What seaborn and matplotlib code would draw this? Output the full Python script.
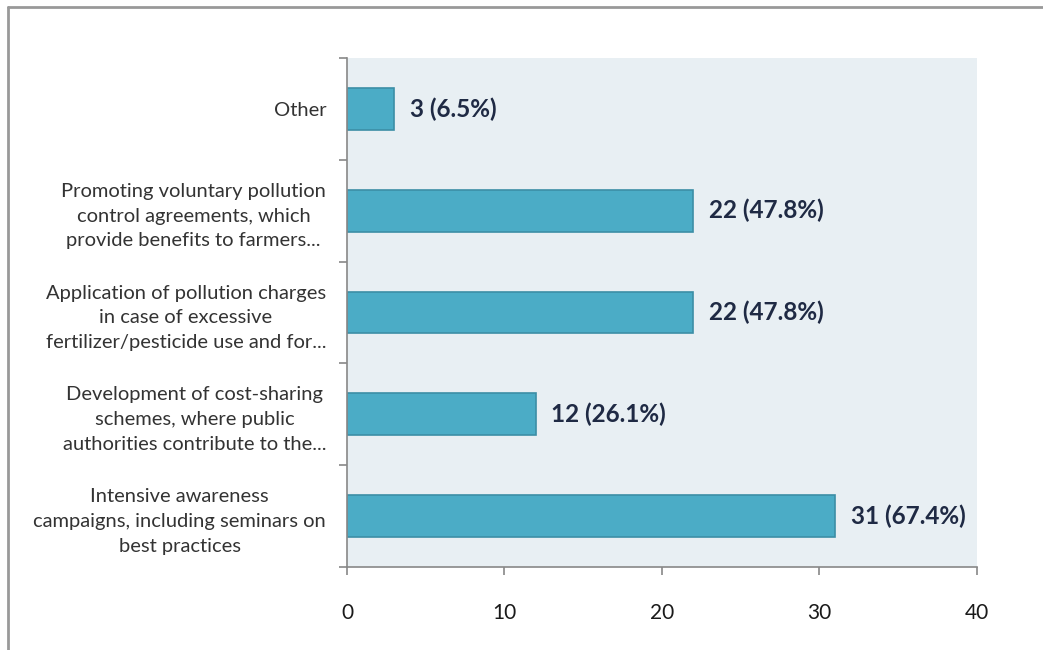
import matplotlib
matplotlib.use("Agg")
import matplotlib.pyplot as plt
import seaborn as sns
import pandas as pd
from matplotlib.lines import Line2D

categories = [
    "Other",
    "Promoting voluntary pollution\ncontrol agreements, which\nprovide benefits to farmers...",
    "Application of pollution charges\nin case of excessive\nfertilizer/pesticide use and for...",
    "Development of cost-sharing\nschemes, where public\nauthorities contribute to the...",
    "Intensive awareness\ncampaigns, including seminars on\nbest practices",
]
counts = [3, 22, 22, 12, 31]
percents = [6.5, 47.8, 47.8, 26.1, 67.4]
x_ticks = [0, 10, 20, 30, 40]

sns.set_style("white")
plt.rcParams["font.family"] = ["Lato", "DejaVu Sans"]

df = pd.DataFrame({"category": categories, "count": counts})

fig = plt.figure(figsize=(10.43, 6.5), dpi=100)
ax = fig.add_axes([0.3327, 0.1277, 0.9367 - 0.3327, 0.9108 - 0.1277])
ax.set_facecolor("#E8EFF3")

sns.barplot(data=df, y="category", x="count", orient="h", color="#4BACC6",
            edgecolor="#3C8EA6", linewidth=1.2, width=0.41, saturation=1, ax=ax)

for i, (c, p) in enumerate(zip(counts, percents)):
    ax.annotate(f"{c} ({p}%)", xy=(c, i), xytext=(11, 0), textcoords="offset points",
                ha="left", va="center", fontsize=17.5, fontweight="bold", color="#1F2A44")

ax.set_xlim(0, 40)
ax.set_ylim(len(categories) - 0.5, -0.5)
ax.set_xticks(x_ticks)
ax.set_xticklabels([str(t) for t in x_ticks], fontsize=15, color="#1a1a1a")
ax.set_xlabel("")
ax.set_ylabel("")

ax.set_yticks(range(len(categories)))
ax.set_yticklabels(categories, fontsize=14.5, color="#333333", multialignment="center")
ax.set_yticks([i - 0.5 for i in range(len(categories) + 1)], minor=True)
ax.tick_params(axis="y", which="major", length=0, pad=15)
ax.tick_params(axis="y", which="minor", length=6, color="#888888", width=1.2, left=True)
ax.tick_params(axis="x", which="major", length=6, color="#888888", width=1.2, pad=20, bottom=True)
for lbl in ax.get_yticklabels():
    lbl.set_linespacing(1.55)

for s in ["top", "right"]:
    ax.spines[s].set_visible(False)
for s in ["left", "bottom"]:
    ax.spines[s].set_color("#888888")
    ax.spines[s].set_linewidth(1.2)

# outer chart border (left and top visible)
fig.add_artist(Line2D([8 / 1043, 8 / 1043], [0, 1 - 7 / 650], transform=fig.transFigure,
                      color="#999999", linewidth=2))
fig.add_artist(Line2D([8 / 1043, 1], [1 - 7 / 650, 1 - 7 / 650], transform=fig.transFigure,
                      color="#999999", linewidth=2))

fig.savefig("out.png", dpi=100, facecolor="white")
